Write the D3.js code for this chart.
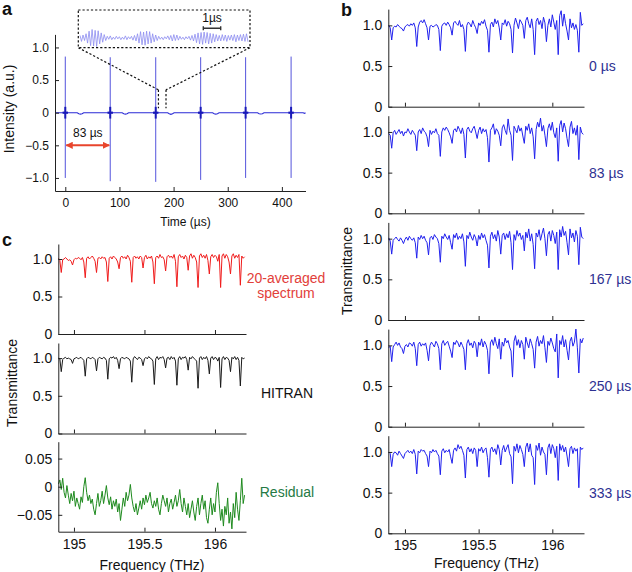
<!DOCTYPE html>
<html>
<head>
<meta charset="utf-8">
<script src="https://cdn.jsdelivr.net/npm/d3@7"></script>
<style>
  body { margin: 0; background: #fff; }
  svg { font-family: "Liberation Sans", Arial, Helvetica, sans-serif; }
</style>
</head>
<body>
<svg id="fig" width="632" height="572"></svg>
<script>
  // ---- panel a: pulse train ----
  var pulseTimes = [0, 83, 167, 250, 333, 417];
  var pulseMax = [0.86, 0.85, 0.85, 0.85, 0.85, 0.86];
  var pulseMin = [-1.0, -1.05, -1.06, -1.03, -1.0, -1.0];
  // baseline between pulses (small wobble after each pulse)
  var baseT = [-19, 22, 25, 28, 31, 34, 105, 108, 111, 114, 117, 189, 192, 195, 198, 201,
               272, 275, 278, 281, 284, 355, 358, 361, 364, 367, 439, 442, 443.6];
  var baseV = [0, 0, -0.015, -0.022, -0.015, 0, 0, -0.015, -0.022, -0.015, 0, 0, -0.015, -0.025, -0.015, 0,
               0, -0.015, -0.022, -0.015, 0, 0, -0.015, -0.02, -0.015, 0, 0, -0.01, 0];
  // zoomed interferogram shown in the inset (arb. units)
  var insetV = [0.3,-0.4,0.35,-0.3,0.5,-0.6,
    0.8,-0.9,1.0,-0.95,0.9,-1.0,0.85,-0.7,0.6,-0.5,0.4,-0.3,
    0.2,-0.15,0.25,-0.2,0.1,-0.15,0.2,-0.1,0.15,-0.2,0.1,-0.15,0.25,-0.2,0.15,-0.1,0.2,-0.25,0.3,-0.35,
    0.5,-0.6,0.75,-0.8,0.7,-0.85,0.8,-0.7,0.75,-0.6,0.5,-0.45,0.35,-0.3,
    0.2,-0.15,0.1,-0.2,0.15,-0.1,0.25,-0.2,0.3,-0.35,0.4,-0.3,0.35,-0.25,0.2,-0.15,0.1,-0.2,0.15,-0.1,0.2,-0.25,0.3,-0.35,
    0.45,-0.55,0.6,-0.7,0.65,-0.75,0.7,-0.6,0.65,-0.7,0.55,-0.6,0.5,-0.45,0.4,-0.35,
    0.3,-0.35,0.4,-0.3,0.35,-0.4,0.3,-0.25,0.35,-0.3,0.4,-0.45,0.35,-0.3,0.4,-0.35,0.45,-0.4,0.5,-0.45];
  var zoomT = [172, 186];
  var zoomV = 0.35;
  var timeTicks = [0, 100, 200, 300, 400];
  var intTicks = [-1, -0.5, 0, 0.5, 1];

  // ---- panels b, c: spectra on a 0.01 THz grid ----
  var freqStart = 194.89, freqStep = 0.01, nFreq = 133;
  var delayLabels = ['0 \u00b5s', '83 \u00b5s', '167 \u00b5s', '250 \u00b5s', '333 \u00b5s'];
  var spec0 = [
    1.00,0.97,0.82,0.97,0.99,0.98,1.01,0.99,0.97,0.96,
    0.93,0.98,1.00,1.01,0.99,1.02,1.00,1.03,0.97,0.74,
    0.98,1.04,1.06,1.03,1.07,1.02,0.97,0.82,0.99,1.00,
    0.98,0.99,1.01,1.00,0.95,0.69,0.99,1.02,1.03,1.00,
    1.04,1.01,0.97,0.88,1.03,1.05,1.02,1.00,1.06,0.98,
    1.01,0.95,0.68,1.00,1.04,1.02,0.98,1.06,1.01,0.97,
    0.90,1.03,1.00,1.05,1.02,1.07,0.99,0.94,0.67,1.01,
    1.04,0.98,1.08,1.02,1.06,0.97,0.82,1.03,1.01,1.07,
    0.99,1.05,1.02,0.95,0.66,1.00,1.09,1.03,0.96,1.07,
    1.04,1.00,0.84,1.06,1.10,1.02,0.97,1.08,0.95,0.64,
    1.05,1.09,1.01,1.06,0.96,1.10,1.03,0.80,1.00,1.08,
    0.98,1.13,1.04,0.95,1.06,0.64,1.12,1.18,0.99,1.14,
    1.02,0.93,0.82,1.08,0.97,1.03,0.95,1.01,0.94,0.67,
    1.16,1.00,1.02];
  var spec83 = [
    0.98,0.96,0.80,0.99,1.02,0.97,1.00,1.03,0.98,1.01,
    0.95,1.00,0.99,1.04,1.00,0.97,1.02,0.99,0.96,0.77,
    1.00,1.03,0.98,1.05,1.01,0.99,0.94,0.82,1.02,0.97,
    1.01,0.99,1.04,0.98,0.96,0.70,1.00,1.05,1.02,1.06,
    1.03,0.99,0.94,0.86,1.02,1.04,1.00,1.07,1.03,0.98,
    1.05,0.97,0.68,1.03,1.06,1.01,0.99,1.04,1.07,1.00,
    0.92,1.02,1.06,0.98,1.04,1.00,1.03,0.93,0.63,1.02,
    1.05,1.10,0.97,1.04,1.01,0.96,0.83,1.05,1.09,1.02,
    0.97,1.16,1.02,0.96,0.65,1.07,1.03,0.99,1.08,1.01,
    1.05,0.95,0.86,1.07,1.02,1.10,0.98,1.05,0.94,0.67,
    1.03,1.12,1.06,1.17,1.01,1.08,0.96,0.82,1.04,1.10,
    1.02,1.12,0.99,0.93,1.05,0.64,1.08,1.14,1.00,1.11,
    1.04,0.92,0.82,1.06,1.13,0.98,1.05,0.96,1.08,0.66,
    1.06,0.99,0.97];
  var spec167 = [
    1.01,0.97,0.81,0.98,1.00,1.02,0.99,0.97,1.01,0.98,
    0.94,0.99,1.02,0.98,1.03,1.00,0.98,1.01,0.95,0.76,
    1.02,0.99,1.04,1.00,1.03,0.98,0.95,0.80,1.01,1.03,
    0.99,1.05,1.02,1.00,0.94,0.71,1.03,1.00,1.06,1.02,
    0.99,1.04,0.95,0.87,1.05,1.01,1.07,0.99,1.03,1.00,
    1.06,0.96,0.66,1.04,1.00,1.08,1.02,0.98,1.05,1.01,
    0.91,1.04,0.99,1.07,1.01,1.05,0.98,0.92,0.64,1.03,
    1.08,1.00,1.05,0.97,1.10,1.02,0.81,1.04,1.07,0.99,
    1.06,1.01,1.09,0.95,0.62,1.05,0.98,1.10,1.03,1.07,
    0.99,1.04,0.85,1.08,1.01,1.12,0.97,1.06,0.93,0.63,
    1.07,1.02,1.11,0.98,1.06,1.13,1.00,0.79,1.05,1.09,
    0.97,1.10,1.04,0.94,1.08,0.62,1.11,1.02,1.15,1.04,
    1.09,0.95,0.80,1.12,1.01,1.07,0.96,1.10,1.03,0.68,
    1.14,1.02,1.00];
  var spec250 = [
    0.97,0.99,0.80,0.98,1.01,1.04,1.00,1.03,0.98,0.96,
    0.90,0.99,1.01,0.98,1.03,1.02,0.99,1.04,0.96,0.75,
    1.01,1.04,0.99,1.02,1.00,1.03,0.94,0.81,1.00,1.04,
    1.01,0.98,1.05,1.02,0.96,0.70,1.02,1.06,1.00,1.03,
    1.05,0.99,0.93,0.85,1.04,1.01,1.06,1.03,0.98,1.04,
    1.00,0.95,0.70,1.02,1.07,1.00,1.03,0.97,1.05,1.02,
    0.86,1.04,1.00,1.08,0.98,1.05,1.01,0.94,0.65,1.03,
    1.07,1.00,1.10,1.02,0.96,1.08,0.83,1.04,0.99,1.09,
    1.03,1.06,0.98,0.93,0.61,1.05,1.12,1.00,1.07,0.97,
    1.06,1.01,0.83,1.10,1.03,0.97,1.08,1.02,0.95,0.72,
    1.04,1.11,0.99,1.06,1.02,1.12,0.97,0.79,1.05,1.00,
    1.09,1.03,0.96,0.92,1.14,0.60,1.06,1.01,1.12,0.98,
    1.07,0.94,0.82,1.05,1.10,0.99,1.04,1.20,0.97,0.66,
    1.08,1.03,1.09];
  var spec333 = [
    1.00,0.98,0.82,0.97,1.00,0.99,0.96,1.01,0.98,0.95,
    0.92,0.98,1.00,1.02,0.99,1.01,0.98,1.03,0.97,0.73,
    1.01,0.99,1.03,1.01,1.02,0.98,0.95,0.82,1.01,0.99,
    1.03,1.00,1.02,0.98,0.95,0.72,1.01,1.04,0.99,1.02,
    1.00,1.03,0.94,0.86,1.02,1.05,1.01,1.09,1.04,1.07,
    1.02,0.96,0.68,1.03,1.06,1.00,1.04,0.98,1.05,1.02,
    0.82,1.04,1.01,1.06,0.99,1.03,1.05,0.93,0.69,1.03,
    1.06,1.00,1.04,0.97,1.09,1.03,0.84,1.02,1.08,1.00,
    1.05,1.09,0.98,0.94,0.61,1.07,1.01,1.10,0.99,1.08,
    1.03,0.97,0.82,1.06,1.11,1.00,1.10,0.96,0.93,0.60,
    1.08,1.02,1.11,0.96,1.06,1.00,0.97,0.72,1.05,1.10,
    0.98,1.09,1.04,0.93,1.07,0.65,1.10,1.02,1.08,1.00,
    1.06,0.95,0.82,1.04,1.07,0.98,1.05,1.01,1.04,0.56,
    1.06,1.03,1.05];
  var avgSpec = [
    1.01,0.98,0.82,0.99,1.00,1.02,1.00,0.98,0.99,0.97,
    0.92,0.99,1.01,1.00,1.02,1.01,0.99,1.02,0.96,0.75,
    1.01,1.03,1.00,1.02,1.04,1.01,0.97,0.82,1.01,1.02,
    1.00,1.03,1.01,1.02,0.96,0.70,1.01,1.03,1.00,1.04,
    1.02,1.00,0.96,0.87,1.02,1.04,1.01,1.03,1.00,1.05,
    1.02,0.97,0.69,1.02,1.04,1.01,1.03,1.00,1.04,1.02,
    0.88,1.02,1.05,1.00,1.03,1.01,1.04,0.96,0.67,1.02,
    1.04,1.01,1.06,1.02,1.03,0.99,0.84,1.03,1.05,1.02,
    1.04,1.01,1.06,0.97,0.63,1.03,1.06,1.02,1.04,1.00,
    1.05,1.02,0.85,1.04,1.07,1.01,1.05,1.02,0.96,0.62,
    1.04,1.07,1.02,1.05,1.01,1.06,0.98,0.80,1.03,1.06,
    1.02,1.05,1.03,0.97,1.06,0.62,1.04,1.07,1.01,1.06,
    1.03,0.96,0.80,1.04,1.07,1.01,1.05,1.02,1.06,0.65,
    1.04,1.01,1.03];
  var hitran = [
    1.00,0.99,0.82,0.98,1.00,1.01,0.99,1.00,0.99,0.98,
    0.93,0.99,1.00,1.01,0.99,1.00,1.01,0.99,0.97,0.76,
    0.99,1.01,1.00,0.99,1.01,1.00,0.98,0.83,0.99,1.01,
    1.00,0.99,1.01,1.00,0.97,0.72,0.99,1.01,1.00,1.02,
    0.99,1.01,0.97,0.86,0.99,1.01,1.00,0.99,1.01,1.00,
    0.99,0.96,0.68,0.99,1.02,1.00,0.98,1.01,1.00,0.98,
    0.90,0.99,1.01,0.99,1.02,1.00,0.99,0.96,0.65,0.99,
    1.02,0.98,1.01,1.00,1.02,0.98,0.87,1.00,1.01,0.98,
    1.02,0.99,1.01,0.96,0.64,0.99,1.02,0.98,1.01,1.00,
    1.02,0.98,0.84,1.01,0.99,1.02,1.00,0.98,0.96,0.60,
    1.00,1.02,0.98,1.01,0.99,1.02,0.97,0.79,1.00,1.02,
    0.98,1.01,1.00,0.96,1.01,0.61,0.99,1.02,0.98,1.01,
    1.00,0.97,0.82,1.01,0.99,1.02,0.98,1.01,0.97,0.63,
    1.01,0.99,1.00];
  var residual = [
    0.005,0.012,-0.005,0.015,-0.01,-0.02,0.002,-0.015,-0.03,-0.012,
    -0.025,-0.008,-0.035,-0.02,-0.03,-0.04,-0.018,-0.028,0.0,0.016,
    -0.01,-0.025,-0.015,-0.03,-0.022,-0.04,-0.05,-0.03,-0.012,-0.035,
    -0.025,-0.008,-0.03,-0.015,0.002,-0.02,-0.032,-0.018,-0.04,-0.025,
    -0.035,-0.022,-0.045,-0.03,-0.06,-0.04,-0.02,-0.035,-0.01,-0.025,
    -0.015,0.004,-0.02,-0.035,-0.045,-0.03,-0.05,-0.038,-0.025,-0.04,
    -0.02,-0.032,-0.015,-0.028,-0.02,-0.01,-0.03,-0.038,-0.025,-0.035,
    -0.02,-0.04,-0.05,-0.03,-0.015,-0.025,-0.035,-0.02,-0.045,-0.03,
    -0.022,-0.04,-0.028,-0.015,-0.035,-0.025,-0.005,-0.03,-0.045,-0.02,
    -0.035,-0.05,-0.03,-0.055,-0.04,-0.025,-0.045,-0.06,-0.035,-0.02,
    -0.05,-0.03,-0.015,-0.04,-0.025,-0.055,-0.065,-0.04,-0.02,-0.05,
    -0.03,-0.045,-0.01,0.007,-0.03,-0.06,-0.04,-0.07,-0.035,-0.05,
    -0.02,-0.065,-0.045,-0.075,-0.03,-0.055,-0.01,-0.04,-0.06,-0.025,
    0.015,-0.03,-0.015];
  var freqTicks = [195, 195.5, 196];
  var transTicks = [0, 0.5, 1];
  var residTicks = [-0.05, 0, 0.05];

  var freq = d3.range(nFreq).map(function(i) { return freqStart + i * freqStep; });

  var svg = d3.select('#fig');
  var FONT = '"Liberation Sans", Arial, Helvetica, sans-serif';

  function numFmt(d) {
    if (d === 0) return '0';
    var a = Math.abs(d);
    var s = a < 0.1 ? d3.format('.2f')(a) : d3.format('.1f')(a);
    return (d < 0 ? '\u2212' : '') + s;
  }
  var noLabel = function() { return ''; };

  function drawAxes(x, y, xTicks, yTicks, xFmt, yFmt, fs, xPad) {
    var gx = svg.append('g')
      .attr('transform', 'translate(0,' + y.range()[0] + ')')
      .call(d3.axisBottom(x).tickValues(xTicks).tickSizeInner(-4).tickSizeOuter(0)
        .tickPadding(xPad).tickFormat(xFmt));
    var gy = svg.append('g')
      .attr('transform', 'translate(' + x.range()[0] + ',0)')
      .call(d3.axisLeft(y).tickValues(yTicks).tickSizeInner(-4).tickSizeOuter(0)
        .tickPadding(6).tickFormat(yFmt));
    [gx, gy].forEach(function(g) {
      g.attr('font-family', FONT).attr('font-size', fs);
      g.selectAll('path, line').attr('stroke', '#222').attr('stroke-width', 1);
      g.selectAll('text').attr('fill', '#111');
    });
  }

  function drawTrace(x, y, vals, color) {
    var line = d3.line()
      .x(function(d, i) { return x(freq[i]); })
      .y(function(d) { return y(d); });
    svg.append('path').datum(vals)
      .attr('d', line)
      .attr('fill', 'none')
      .attr('stroke', color)
      .attr('stroke-width', 1)
      .attr('stroke-linejoin', 'round');
  }

  function addText(x, y, txt, opts) {
    opts = opts || {};
    var t = svg.append('text')
      .attr('x', x).attr('y', y)
      .attr('font-family', FONT)
      .attr('font-size', opts.size || 14)
      .attr('fill', opts.fill || '#111')
      .attr('text-anchor', opts.anchor || 'middle')
      .text(txt);
    if (opts.bold) t.attr('font-weight', 'bold');
    if (opts.rotate) t.attr('transform', 'rotate(-90,' + x + ',' + y + ')');
    return t;
  }

  // ================= panel a =================
  var xA = d3.scaleLinear().domain([-19, 443.6]).range([55, 305.5]);
  var yA = d3.scaleLinear().domain([-1.2, 1.2]).range([191, 34.4]);
  var traceBlue = '#2a2ad6';

  var baseLine = d3.line().x(function(d, i) { return xA(baseT[i]); }).y(function(d) { return yA(d); });
  svg.append('path').datum(baseV).attr('d', baseLine)
    .attr('fill', 'none').attr('stroke', traceBlue).attr('stroke-width', 1.1);

  svg.selectAll('line.spike').data(pulseTimes).enter().append('line')
    .attr('class', 'spike')
    .attr('x1', function(d) { return xA(d); }).attr('x2', function(d) { return xA(d); })
    .attr('y1', function(d, i) { return yA(pulseMax[i]); })
    .attr('y2', function(d, i) { return yA(pulseMin[i]); })
    .attr('stroke', '#3f3fd8').attr('stroke-width', 0.9);
  // denser core of each pulse
  svg.selectAll('line.core').data(pulseTimes).enter().append('line')
    .attr('class', 'core')
    .attr('x1', function(d) { return xA(d - 5); }).attr('x2', function(d) { return xA(d + 5); })
    .attr('y1', yA(0)).attr('y2', yA(0))
    .attr('stroke', '#1a1ab8').attr('stroke-width', 2.2);
  svg.selectAll('line.core2').data(pulseTimes).enter().append('line')
    .attr('class', 'core2')
    .attr('x1', function(d) { return xA(d); }).attr('x2', function(d) { return xA(d); })
    .attr('y1', yA(0.09)).attr('y2', yA(-0.09))
    .attr('stroke', '#1a1ab8').attr('stroke-width', 2);

  drawAxes(xA, yA, timeTicks, intTicks, d3.format('d'), numFmt, 12, 7.5);
  addText(185.5, 226, 'Time (\u00b5s)', { size: 12 });
  addText(13.5, 109, 'Intensity (a.u.)', { size: 14, rotate: true });

  // 83 us arrow
  var defs = svg.append('defs');
  defs.append('marker').attr('id', 'arr').attr('viewBox', '0 0 10 10')
    .attr('refX', 9).attr('refY', 5).attr('markerWidth', 3.6).attr('markerHeight', 3.6)
    .attr('orient', 'auto-start-reverse')
    .append('path').attr('d', 'M0,0L10,5L0,10Z').attr('fill', '#e8452c');
  svg.append('line')
    .attr('x1', xA(pulseTimes[0]) + 1).attr('x2', xA(pulseTimes[1]) - 1)
    .attr('y1', yA(-0.5)).attr('y2', yA(-0.5))
    .attr('stroke', '#e8452c').attr('stroke-width', 2)
    .attr('marker-start', 'url(#arr)').attr('marker-end', 'url(#arr)');
  addText(xA((pulseTimes[0] + pulseTimes[1]) / 2), yA(-0.5) - 8, '83 \u00b5s', { size: 12 });

  // zoom indicator + inset
  var inset = { x0: 78.3, x1: 250, y0: 10, y1: 47.7 };
  var dashed = '2.2,2';
  svg.append('line').attr('x1', xA(zoomT[0])).attr('x2', xA(zoomT[0]))
    .attr('y1', yA(zoomV)).attr('y2', yA(0.07))
    .attr('stroke', '#111').attr('stroke-width', 1.2).attr('stroke-dasharray', dashed);
  svg.append('line').attr('x1', xA(zoomT[1])).attr('x2', xA(zoomT[1]))
    .attr('y1', yA(zoomV)).attr('y2', yA(0.07))
    .attr('stroke', '#111').attr('stroke-width', 1.2).attr('stroke-dasharray', dashed);
  svg.append('line').attr('x1', inset.x0).attr('y1', inset.y1)
    .attr('x2', xA(zoomT[0])).attr('y2', yA(zoomV))
    .attr('stroke', '#111').attr('stroke-width', 1.2).attr('stroke-dasharray', dashed);
  svg.append('line').attr('x1', inset.x1).attr('y1', inset.y1)
    .attr('x2', xA(zoomT[1])).attr('y2', yA(zoomV))
    .attr('stroke', '#111').attr('stroke-width', 1.2).attr('stroke-dasharray', dashed);
  svg.append('rect').attr('x', inset.x0).attr('y', inset.y0)
    .attr('width', inset.x1 - inset.x0).attr('height', inset.y1 - inset.y0)
    .attr('fill', '#fff').attr('stroke', '#111').attr('stroke-width', 1.2)
    .attr('stroke-dasharray', dashed);
  var xI = d3.scaleLinear().domain([0, insetV.length - 1]).range([80, 248]);
  var yI = d3.scaleLinear().domain([-1, 1]).range([46.5, 29.5]);
  svg.append('path').datum(insetV)
    .attr('d', d3.line().x(function(d, i) { return xI(i); }).y(function(d) { return yI(d); }))
    .attr('fill', 'none').attr('stroke', '#8c8cf0').attr('stroke-width', 0.8);
  // 1 us scale bar
  svg.append('path').attr('d', 'M203.3,26.3V30.3M203.3,28.3H220.7M220.7,26.3V30.3')
    .attr('stroke', '#333').attr('stroke-width', 1.4).attr('fill', 'none');
  addText(212, 22, '1\u00b5s', { size: 12 });

  // ================= panel b =================
  var xB = d3.scaleLinear().domain([194.887, 196.215]).range([388.3, 584]);
  var bBottoms = [106.7, 213.3, 320, 426.7, 533.3];
  var bSpectra = [spec0, spec83, spec167, spec250, spec333];
  bSpectra.forEach(function(s, k) {
    var y = d3.scaleLinear().domain([0, 1.2]).range([bBottoms[k], bBottoms[k] - 97.6]);
    drawTrace(xB, y, s, '#2020ee');
    drawAxes(xB, y, freqTicks, transTicks, k === 4 ? d3.format('') : noLabel, numFmt, 14, 7);
    addText(589, y(0.5) + 5, delayLabels[k], { size: 14, fill: '#2e3192', anchor: 'start' });
  });
  addText(486.5, 568, 'Frequency (THz)', { size: 14 });
  addText(352, 271, 'Transmittance', { size: 14, rotate: true });

  // ================= panel c =================
  var xC = d3.scaleLinear().domain([194.889, 196.22]).range([58.3, 246]);
  var yC1 = d3.scaleLinear().domain([0, 1.2]).range([334, 244]);
  var yC2 = d3.scaleLinear().domain([0, 1.2]).range([433.5, 343]);
  var yC3 = d3.scaleLinear().domain([-0.08, 0.08]).range([531.7, 441.7]);

  drawTrace(xC, yC1, avgSpec, '#f01c1c');
  drawAxes(xC, yC1, freqTicks, transTicks, noLabel, numFmt, 14, 7);
  drawTrace(xC, yC2, hitran, '#1a1a1a');
  drawAxes(xC, yC2, freqTicks, transTicks, noLabel, numFmt, 14, 7);
  drawTrace(xC, yC3, residual, '#1e8a1e');
  drawAxes(xC, yC3, freqTicks, residTicks, d3.format(''), numFmt, 14, 7);

  addText(286, 283, '20-averaged', { size: 14, fill: '#e2403a' });
  addText(286, 298, 'spectrum', { size: 14, fill: '#e2403a' });
  addText(287, 398, 'HITRAN', { size: 14 });
  addText(287, 497, 'Residual', { size: 14, fill: '#257a45' });
  addText(152, 570, 'Frequency (THz)', { size: 14 });
  addText(17, 383, 'Transmittance', { size: 14, rotate: true });

  // panel letters
  addText(2, 15, 'a', { size: 18, bold: true, anchor: 'start' });
  addText(341, 16, 'b', { size: 18, bold: true, anchor: 'start' });
  addText(2, 246, 'c', { size: 18, bold: true, anchor: 'start' });
</script>
</body>
</html>
